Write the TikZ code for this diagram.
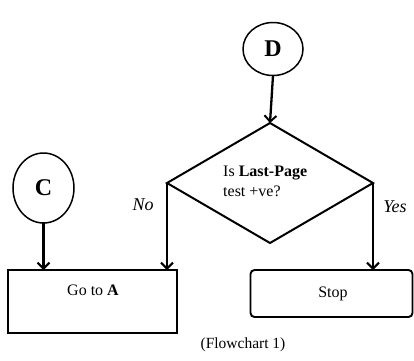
\documentclass[tikz,border=0pt]{standalone}
\usepackage{fontspec}
\setmainfont{Liberation Serif}
\usetikzlibrary{shapes.geometric,arrows.meta}
\begin{document}
\begin{tikzpicture}[x=1pt,y=-1pt,
  conn/.style={ellipse,draw,line width=1.5pt,inner sep=0pt,outer sep=0pt,font=\fontsize{24}{26}\selectfont\bfseries},
  arr/.style={line width=2.3pt,-{Straight Barb[length=6pt,width=12pt,line width=2pt]}},
  boxr/.style={draw,line width=1.9pt,inner sep=0pt,outer sep=0pt},
  lbl/.style={font=\fontsize{16}{18}\selectfont},
  yn/.style={font=\fontsize{18}{20}\selectfont\itshape}]
\useasboundingbox (0,0) rectangle (414,360);
% connectors
\node[conn,minimum width=60pt,minimum height=53pt] (d) at (273,49) {D};
\node[conn,minimum width=61pt,minimum height=70pt] (c) at (43.5,188) {C};
% decision
\node[diamond,draw,line width=2pt,minimum width=206pt,minimum height=120pt,inner sep=0pt,outer sep=0pt] (dia) at (270,183) {};
\node[lbl,anchor=west,align=left,inner sep=0pt] (q) at (223,181) {Is \textbf{Last-Page}\\[2pt]test +ve?};
% boxes
\node[boxr,minimum width=169pt,minimum height=63pt] (goto) at (92.5,301.5) {};
\node[lbl,inner sep=0pt] (gotot) at (93,290) {Go to \textbf{A}};
\node[boxr,rounded corners=4pt,minimum width=162pt,minimum height=47pt] (stop) at (331.5,293.5) {};
\node[lbl,inner sep=0pt] (stopt) at (333,293.5) {Stop};
% arrows
\draw[arr] (d.south) -- (dia.north);
\draw[arr] (c.south) -- (c.south |- goto.north);
\draw[arr] (dia.west) -- (dia.west |- goto.north);
\draw[arr] (dia.east) -- (dia.east |- stop.north);
% labels
\node[yn,inner sep=0pt] (no) at (143,205) {No};
\node[yn,inner sep=0pt] (yes) at (395,207) {Yes};
\node[font=\fontsize{15.5}{17}\selectfont,inner sep=0pt] (cap) at (243,345) {(Flowchart 1)};
\end{tikzpicture}
\end{document}
